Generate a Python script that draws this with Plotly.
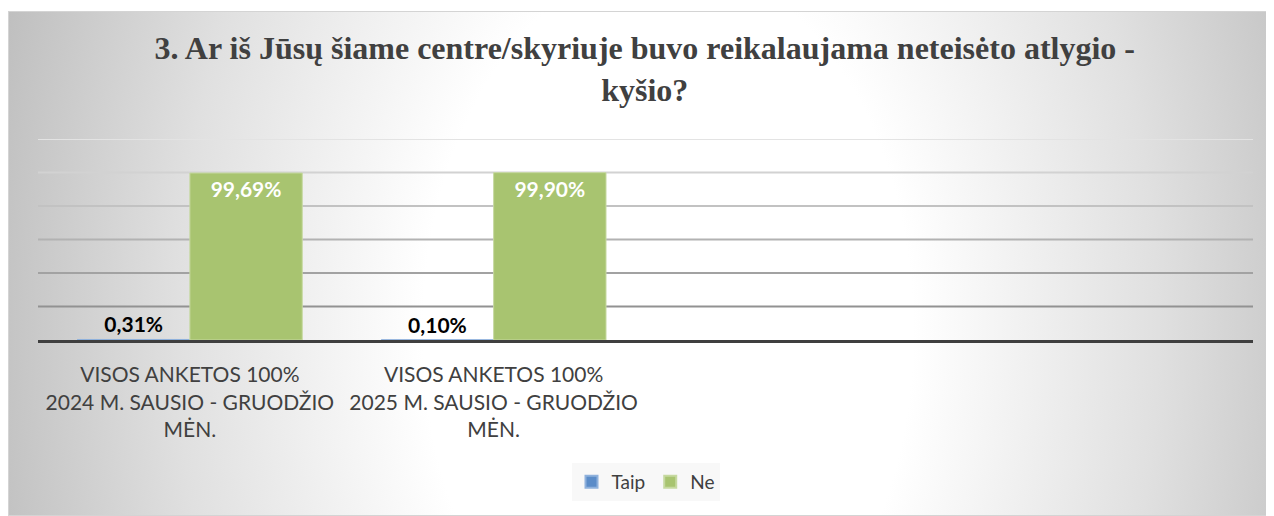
import base64
import plotly.graph_objects as go

# ---- data ----
categories = [
    "VISOS ANKETOS 100%<br>2024 M. SAUSIO - GRUODŽIO<br>MĖN.",
    "VISOS ANKETOS 100%<br>2025 M. SAUSIO - GRUODŽIO<br>MĖN.",
    "",
    "",
]
taip_values = [0.31, 0.10]
ne_values = [99.69, 99.90]
series_names = ["Taip", "Ne"]
grid_values = [20, 40, 60, 80, 100, 120]
title_text = "3. Ar iš Jūsų šiame centre/skyriuje buvo reikalaujama neteisėto atlygio -<br>kyšio?"

# figure is drawn inside the page's 8px body margin
W, H = 1266, 508
ML, MR, MT, MB = 30, 21, 131, 176
FONT = "Lato, 'Open Sans', sans-serif"

x_pos = list(range(len(categories)))

fig = go.Figure()
fig.add_trace(go.Bar(
    x=x_pos[:len(taip_values)], y=taip_values, name=series_names[0],
    marker=dict(color="#5B8CC8", line=dict(color="#8FB1DC", width=1)),
    texttemplate="%{y:.2f}%", textposition="outside", cliponaxis=False,
    textfont=dict(family=FONT, size=21, color="#000000", weight="bold"),
))
fig.add_trace(go.Bar(
    x=x_pos[:len(ne_values)], y=ne_values, name=series_names[1],
    marker=dict(color="#A8C470", line=dict(color="#C6D9A0", width=1)),
    texttemplate="%{y:.2f}%", textposition="inside", insidetextanchor="end",
    textfont=dict(family=FONT, size=21, color="#FFFFFF", weight="bold"),
))

# gradient frame background (svg)
fx0, fy0 = 0, 3
fw, fh = W - fx0, H - fy0
svg = (
    f"<svg xmlns='http://www.w3.org/2000/svg' width='{fw}' height='{fh}' "
    f"viewBox='0 0 {fw} {fh}' preserveAspectRatio='none'>"
    "<defs><radialGradient id='g' gradientUnits='userSpaceOnUse' cx='0' cy='0' r='700' "
    "gradientTransform='translate(660 320) scale(1 1.5)'>"
    "<stop offset='0' stop-color='#ffffff'/>"
    "<stop offset='0.35' stop-color='#ffffff'/>"
    "<stop offset='0.7' stop-color='#e0e0e0'/>"
    "<stop offset='1' stop-color='#bebebe'/>"
    "</radialGradient></defs>"
    f"<rect x='0.5' y='0.5' width='{fw-1}' height='{fh-1}' fill='url(#g)' stroke='#d4d4d4' stroke-width='1'/>"
    "</svg>"
)
src = "data:image/svg+xml;base64," + base64.b64encode(svg.encode()).decode()
pw = W - ML - MR
ph = H - MT - MB
fig.add_layout_image(dict(
    source=src, xref="paper", yref="paper",
    x=(fx0 - ML) / pw, y=(H - MB - fy0) / ph,
    sizex=fw / pw, sizey=fh / ph, sizing="stretch",
    xanchor="left", yanchor="top", layer="below",
))

# graded gridlines
grid_colors = ["#e3e3e3", "#d2d2d2", "#c2c2c2", "#b2b2b2", "#a2a2a2", "#929292"]
for v, c in zip(grid_values, reversed(grid_colors)):
    fig.add_shape(type="line", xref="paper", yref="y", x0=0, x1=1, y0=v, y1=v,
                  line=dict(color=c, width=2), layer="below")

fig.update_layout(
    width=W, height=H,
    margin=dict(l=ML, r=MR, t=MT, b=MB),
    paper_bgcolor="#ffffff", plot_bgcolor="rgba(0,0,0,0)",
    separators=", ",
    barmode="group", bargap=0.26, bargroupgap=0,
    title=dict(text=title_text, x=0.503, xanchor="center", y=1 - 51 / H, yanchor="middle",
               font=dict(family="'Liberation Serif', 'Times New Roman', serif", size=32, color="#404040",
                         weight="bold")),
    xaxis=dict(range=[-0.5, len(categories) - 0.5], tickvals=x_pos, ticktext=categories,
               showgrid=False, zeroline=False, showline=True, linecolor="#3f3f3f", linewidth=3,
               ticks="", ticklabelstandoff=14,
               tickfont=dict(family=FONT, size=21, color="#404040")),
    yaxis=dict(range=[0, 120], showgrid=False, zeroline=False, showticklabels=False, ticks=""),
    legend=dict(orientation="h", x=0.5, xanchor="center", y=-0.706, yanchor="middle",
                bgcolor="#f8f8f8", font=dict(family=FONT, size=19, color="#404040"),
                itemsizing="constant", traceorder="normal"),
    showlegend=True,
)

fig.write_html("out.html")
